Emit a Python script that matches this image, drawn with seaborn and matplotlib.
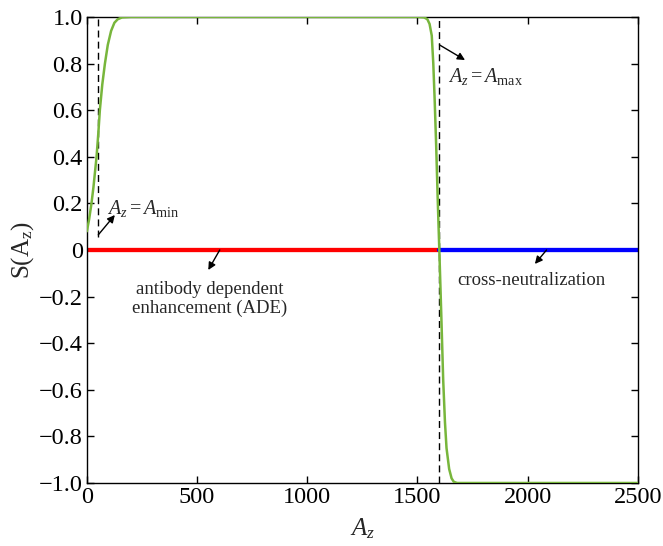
import matplotlib
matplotlib.use("Agg")
import matplotlib.pyplot as plt
import seaborn as sns
import pandas as pd

# Data
curve_x = [0, 10, 21, 30, 44, 52, 59, 70, 82, 95, 110, 125, 140, 160, 200,
           1500, 1530, 1545, 1555, 1565, 1572, 1578, 1585, 1592, 1600, 1608,
           1617, 1625, 1632, 1644, 1655, 1665, 1680, 2500]
curve_y = [0.08, 0.13, 0.20, 0.27, 0.40, 0.50, 0.60, 0.71, 0.80, 0.88, 0.94, 0.975, 0.99, 0.998, 1.0,
           1.0, 0.998, 0.99, 0.97, 0.92, 0.80, 0.65, 0.45, 0.22, -0.02, -0.27,
           -0.56, -0.74, -0.85, -0.94, -0.98, -0.995, -1.0, -1.0]
ade_x = [0, 1600]
ade_y = [0, 0]
cross_x = [1600, 2500]
cross_y = [0, 0]
a_min = 50
a_max = 1600
xticks = [0, 500, 1000, 1500, 2000, 2500]
yticks = [-1.0, -0.8, -0.6, -0.4, -0.2, 0, 0.2, 0.4, 0.6, 0.8, 1.0]
ytick_labels = ["\u22121.0", "\u22120.8", "\u22120.6", "\u22120.4", "\u22120.2", "0",
                "0.2", "0.4", "0.6", "0.8", "1.0"]

sns.set_style("white")
plt.rcParams['font.family'] = ['Liberation Serif', 'DejaVu Serif']
plt.rcParams['mathtext.fontset'] = 'custom'
plt.rcParams['mathtext.rm'] = 'Liberation Serif'
plt.rcParams['mathtext.it'] = 'Liberation Serif:italic'

fig = plt.figure(figsize=(6.63, 5.46), dpi=100)
ax = fig.add_axes([0.131, 0.1154, 0.831, 0.8536])

df_curve = pd.DataFrame({"x": curve_x, "y": curve_y})
df_ade = pd.DataFrame({"x": ade_x, "y": ade_y})
df_cross = pd.DataFrame({"x": cross_x, "y": cross_y})

sns.lineplot(data=df_ade, x="x", y="y", ax=ax, color="#ff0000", lw=3.1, zorder=2, sort=False)
sns.lineplot(data=df_cross, x="x", y="y", ax=ax, color="#0000ff", lw=3.1, zorder=2, sort=False)
ax.vlines(a_min, 0.055, 1.0, colors="black", linestyles=(0, (5, 3)), lw=1.0, zorder=3)
ax.vlines(a_max, -1.0, 1.0, colors="black", linestyles=(0, (5, 3)), lw=1.0, zorder=3)
sns.lineplot(data=df_curve, x="x", y="y", ax=ax, color="#78b63c", lw=1.8, zorder=4, sort=False)

ax.set_xlim(0, 2500)
ax.set_ylim(-1.0, 1.0)
ax.set_xticks(xticks)
ax.set_xticklabels([str(t) for t in xticks])
ax.set_yticks(yticks)
ax.set_yticklabels(ytick_labels)
ax.tick_params(direction="in", length=5, width=1, labelsize=17.5, top=True, right=True,
               bottom=True, left=True, pad=3, colors="black")
for s in ax.spines.values():
    s.set_color("black")
    s.set_linewidth(1.0)

ax.set_xlabel(r"$A_z$", fontsize=18, labelpad=6)
ax.set_ylabel(r"S(A$_{\mathrm{z}}$)", fontsize=18, labelpad=2)

arrow = dict(arrowstyle="-|>", color="black", lw=1.0, mutation_scale=11, shrinkA=0, shrinkB=0)
ax.annotate("", xy=(127, 0.15), xytext=(52, 0.065), arrowprops=arrow)
ax.text(90, 0.18, r"$A_z = A_{\mathrm{min}}$", fontsize=14.5, ha="left", va="center")
ax.annotate("", xy=(1716, 0.815), xytext=(1600, 0.88), arrowprops=arrow)
ax.text(1638, 0.745, r"$A_z = A_{\mathrm{max}}$", fontsize=14.5, ha="left", va="center")
ax.annotate("", xy=(551, -0.086), xytext=(603, 0), arrowprops=arrow)
ax.text(558, -0.21, "antibody dependent\nenhancement (ADE)", fontsize=13.5,
        ha="center", va="center", linespacing=1.1)
ax.annotate("", xy=(2033, -0.06), xytext=(2086, 0), arrowprops=arrow)
ax.text(2019, -0.13, "cross-neutralization", fontsize=13.5, ha="center", va="center")

fig.savefig("out.png", dpi=100)
